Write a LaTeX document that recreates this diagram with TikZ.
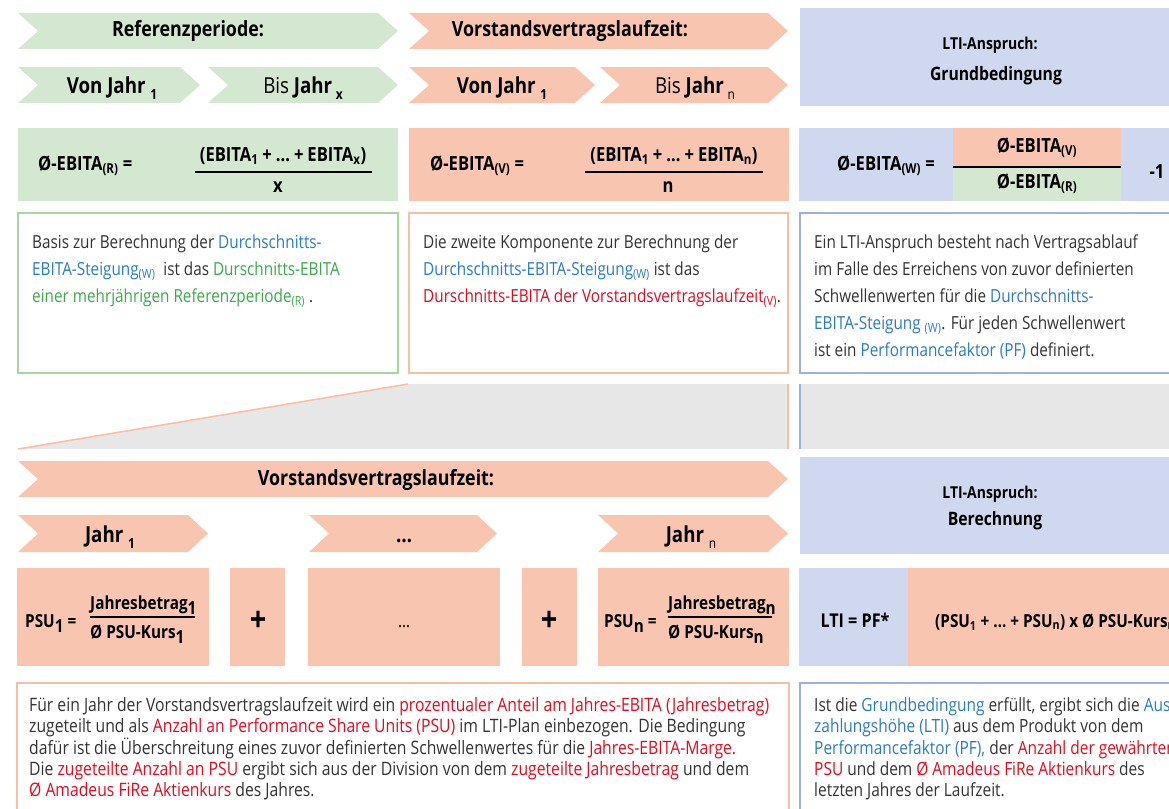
\documentclass[tikz,border=0pt]{standalone}
\usepackage{fontspec}
\setmainfont{Open Sans}[FakeStretch=0.85]
\usetikzlibrary{calc}

\definecolor{grfill}{HTML}{D4E7D0}
\definecolor{safill}{HTML}{F8C6B0}
\definecolor{blfill}{HTML}{CFD8EF}
\definecolor{gyfill}{HTML}{E7E7E7}
\definecolor{grline}{HTML}{A9D5A1}
\definecolor{saline}{HTML}{F7BEA5}
\definecolor{blline}{HTML}{9DB1DF}
\definecolor{txblue}{HTML}{2B7BC0}
\definecolor{txgreen}{HTML}{3AAA4A}
\definecolor{txred}{HTML}{E30A1E}
\definecolor{txbody}{HTML}{333333}

\newcommand\bl[1]{\textcolor{txblue}{#1}}
\newcommand\gr[1]{\textcolor{txgreen}{#1}}
\newcommand\rd[1]{\textcolor{txred}{#1}}
\newcommand\lowsub[1]{\raisebox{-0.3em}{#1}}
\newcommand\yearsub[1]{\raisebox{-0.3em}{\fontsize{14}{14}\selectfont #1}}
\newcommand\gap{\hspace{4pt}}

% arrow-like band: left x, right x, top y, bottom y, colour
\newcommand\chevron[5]{%
  \fill[#5] (#1,#3) -- ({#2-20},#3) -- (#2,{(#3+#4)/2}) -- ({#2-20},#4)
    -- (#1,#4) -- ({#1+20},{(#3+#4)/2}) -- cycle;}

\tikzset{
  body/.style={inner sep=0pt, anchor=base west, text=txbody,
    font=\fontsize{18}{21}\selectfont},
  bodylow/.style={body, font=\fontsize{18.5}{21}\selectfont},
  bodyright/.style={body, font=\fontsize{18.2}{21}\selectfont},
  head/.style={inner sep=0pt, anchor=base, text=black,
    font=\fontsize{21}{25}\selectfont\bfseries},
  yearlbl/.style={inner sep=0pt, anchor=base, text=black,
    font=\fontsize{22}{26}\selectfont\bfseries},
  ltismall/.style={inner sep=0pt, anchor=base, text=black,
    font=\fontsize{16.4}{19}\selectfont\bfseries},
  ltibig/.style={inner sep=0pt, anchor=base, text=black,
    font=\fontsize{18.5}{22}\selectfont\bfseries},
  frm/.style={inner sep=0pt, anchor=base, text=black,
    font=\fontsize{19.5}{22}\selectfont\bfseries},
  frmw/.style={frm, anchor=base west},
  psu/.style={inner sep=0pt, anchor=base west, text=black,
    font=\fontsize{18}{21}\selectfont\bfseries},
  fracline/.style={draw=black, line width=1.1pt},
  grframe/.style={draw=grline, line width=1.5pt},
  saframe/.style={draw=saline, line width=1.5pt},
  blframe/.style={draw=blline, line width=1.5pt},
}

\begin{document}
\begin{tikzpicture}[x=1pt, y=-1pt]
\useasboundingbox (0,0) rectangle (1169,808);
\clip (0,0) rectangle (1169,808);

% ---------------- periods ----------------
\chevron{18}{398}{13}{49}{grfill}
\chevron{18}{200}{67}{103}{grfill}
\chevron{208}{398}{67}{103}{grfill}
\chevron{409}{788}{13}{49}{safill}
\chevron{409}{595}{67}{103}{safill}
\chevron{600}{788}{67}{103}{safill}
\fill[blfill] (800,8) rectangle (1169,106);

\node[head] (refp) at (188,37) {Referenzperiode:};
\node[yearlbl] (rvon) at (112,93) {Von Jahr \yearsub{1}};
\node[yearlbl] (rbis) at (303,93) {\mdseries Bis \bfseries Jahr\,\yearsub{x}};
\node[head] (vlz) at (570,37) {Vorstandsvertragslaufzeit:};
\node[yearlbl] (vvon) at (502,93) {Von Jahr \yearsub{1}};
\node[yearlbl] (vbis) at (695,93) {\mdseries Bis \bfseries Jahr\,\yearsub{\mdseries n}};
\node[ltismall] (lti1) at (990,50) {LTI-Anspruch:};
\node[ltibig] (grund) at (996,80) {Grundbedingung};

% ---------------- average formulas ----------------
\fill[grfill] (18,128) rectangle (398,201);
\fill[safill] (409,128) rectangle (789,201);
\fill[blfill] (799,128) rectangle (1169,201);
\fill[safill] (953,128) rectangle (1121,167);
\fill[grfill] (953,167) rectangle (1121,201);

\node[frmw] (er) at (38,170) {Ø-EBITA\textsubscript{(R)} =};
\node[frm] (ernum) at (283,161) {(EBITA\textsubscript{1}\gap+\gap…\gap+\gap EBITA\textsubscript{x})};
\node[frm] (erden) at (278,192) {x};
\coordinate (erl) at (195,172);
\coordinate (err) at (372,172);
\draw[fracline] (erl) -- (err);

\node[frmw] (ev) at (430,170) {Ø-EBITA\textsubscript{(V)} =};
\node[frm] (evnum) at (674,161) {(EBITA\textsubscript{1}\gap+\gap…\gap+\gap EBITA\textsubscript{n})};
\node[frm] (evden) at (668,192) {n};
\coordinate (evl) at (585,172);
\coordinate (evr) at (763,172);
\draw[fracline] (evl) -- (evr);

\node[frmw] (ew) at (837,170) {Ø-EBITA\textsubscript{(W)} =};
\node[frm] (ewnum) at (1037,152) {Ø-EBITA\textsubscript{(V)}};
\node[frm] (ewden) at (1037,188) {Ø-EBITA\textsubscript{(R)}};
\node[frm] (ewone) at (1157,178) {-1};
\coordinate (ewl) at (953,167);
\coordinate (ewr) at (1121,167);
\draw[fracline] (ewl) -- (ewr);

% ---------------- explanations ----------------
\draw[grframe] (18,213) rectangle (398,373);
\draw[saframe] (409,213) rectangle (788,373);
\draw[blframe] (800,213) rectangle (1180,373);

\node[body] (gt1) at (32,248) {Basis zur Berechnung der \bl{Durchschnitts-}};
\node[body] (gt2) at (32,275) {\bl{EBITA-Steigung\textsubscript{(W)}} \ ist das \gr{Durschnitts-EBITA}};
\node[body] (gt3) at (32,302) {\gr{einer mehrjährigen Referenzperiode\textsubscript{(R)}} .};

\node[body] (st1) at (423,248) {Die zweite Komponente zur Berechnung der};
\node[body] (st2) at (423,275) {\bl{Durchschnitts-EBITA-Steigung\textsubscript{(W)}} ist das};
\node[body] (st3) at (423,302) {\rd{Durschnitts-EBITA der Vorstandsvertragslaufzeit\textsubscript{(V)}}.};

\node[body] (bt1) at (814,248) {Ein LTI-Anspruch besteht nach Vertragsablauf};
\node[body] (bt2) at (814,275) {im Falle des Erreichens von zuvor definierten};
\node[body] (bt3) at (814,302) {Schwellenwerten für die \bl{Durchschnitts-}};
\node[body] (bt4) at (814,329) {\bl{EBITA-Steigung \textsubscript{(W)}}. Für jeden Schwellenwert};
\node[body] (bt5) at (814,356) {ist ein \bl{Performancefaktor (PF)} definiert.};

% ---------------- zoom onto the contract term ----------------
\coordinate (zl) at (18,449);
\coordinate (zt) at (408,384);
\coordinate (ztr) at (788,384);
\coordinate (zbr) at (788,449);
\fill[gyfill] (zl) -- (zt) -- (ztr) -- (zbr) -- cycle;
\draw[saline, line width=1.5pt] (zl) -- (zt);
\draw[saline, line width=2pt] (ztr) -- (zbr);
\coordinate (gbl) at (800,384);
\coordinate (gbb) at (800,449);
\fill[gyfill] (gbl) rectangle (1169,449);
\draw[blline, line width=1.5pt] (gbl) -- (gbb);

% ---------------- yearly allotment ----------------
\chevron{18}{788}{461}{497}{safill}
\chevron{18}{208}{515}{552}{safill}
\chevron{309}{497}{515}{552}{safill}
\chevron{598}{788}{515}{552}{safill}
\fill[blfill] (800,457) rectangle (1169,554);

\node[head] (vlz2) at (376,485) {Vorstandsvertragslaufzeit:};
\node[yearlbl] (j1) at (110,542) {Jahr \yearsub{1}};
\node[yearlbl] (jd) at (404,542) {…};
\node[yearlbl] (jn) at (691,542) {Jahr \yearsub{\mdseries n}};
\node[ltismall] (lti2) at (990,498) {LTI-Anspruch:};
\node[ltibig] (ber) at (995,525) {Berechnung};

% ---------------- PSU formulas ----------------
\fill[safill] (17,568) rectangle (209,666);
\fill[safill] (230,568) rectangle (285,666);
\fill[safill] (308,568) rectangle (500,666);
\fill[safill] (522,568) rectangle (577,666);
\fill[safill] (598,568) rectangle (789,666);
\fill[blfill] (799,568) rectangle (908,666);
\fill[safill] (908,568) rectangle (1169,666);

\node[psu] (p1) at (25,627) {PSU\lowsub{1} =};
\node[psu] (p1num) at (90,609) {Jahresbetrag\lowsub{1}};
\node[psu] (p1den) at (90,638) {Ø PSU-Kurs\lowsub{1}};
\coordinate (p1l) at (90,617);
\coordinate (p1r) at (195,617);
\draw[fracline] (p1l) -- (p1r);

\node[frm, anchor=center, font=\fontsize{34}{34}\selectfont\bfseries] (plus1) at (258,621) {+};
\node[frm, font=\fontsize{18}{20}\selectfont\mdseries] (pdots) at (404,627) {…};
\node[frm, anchor=center, font=\fontsize{34}{34}\selectfont\bfseries] (plus2) at (549,621) {+};

\node[psu] (pn) at (604,627) {PSU\lowsub{n} =};
\node[psu] (pnnum) at (668,609) {Jahresbetrag\lowsub{n}};
\node[psu] (pnden) at (668,638) {Ø PSU-Kurs\lowsub{n}};
\coordinate (pnl) at (668,617);
\coordinate (pnr) at (772,617);
\draw[fracline] (pnl) -- (pnr);

\node[frm, font=\fontsize{19}{22}\selectfont\bfseries] (ltipf) at (855,627) {LTI = PF*};
\node[psu] (ltisum) at (935,627)
  {(PSU\textsubscript{1} + … + PSU\textsubscript{n}) x Ø PSU-Kurs\textsubscript{n}};

% ---------------- explanations ----------------
\draw[saframe] (17,683) rectangle (789,820);
\draw[blframe] (800,683) rectangle (1180,820);

\node[bodylow] (pt1) at (29,711) {Für ein Jahr der Vorstandsvertragslaufzeit wird ein \rd{prozentualer Anteil am Jahres-EBITA (Jahresbetrag)}};
\node[bodylow] (pt2) at (29,732) {zugeteilt und als \rd{Anzahl an Performance Share Units (PSU)} im LTI-Plan einbezogen. Die Bedingung};
\node[bodylow] (pt3) at (29,754) {dafür ist die Überschreitung eines zuvor definierten Schwellenwertes für die \rd{Jahres-EBITA-Marge.}};
\node[bodylow] (pt4) at (29,775) {Die \rd{zugeteilte Anzahl an PSU} ergibt sich aus der Division von dem \rd{zugeteilte Jahresbetrag} und dem};
\node[bodylow] (pt5) at (29,796) {\rd{Ø Amadeus FiRe Aktienkurs} des Jahres.};

\node[bodyright] (lt1) at (814,711) {Ist die \bl{Grundbedingung} erfüllt, ergibt sich die \bl{Aus-}};
\node[bodyright] (lt2) at (814,732) {\bl{zahlungshöhe (LTI)} aus dem Produkt von dem};
\node[bodyright] (lt3) at (814,754) {\bl{Performancefaktor (PF),} der \rd{Anzahl der gewährten}};
\node[bodyright] (lt4) at (814,775) {\rd{PSU} und dem \rd{Ø Amadeus FiRe Aktienkurs} des};
\node[bodyright] (lt5) at (814,796) {letzten Jahres der Laufzeit.};
\end{tikzpicture}
\end{document}
